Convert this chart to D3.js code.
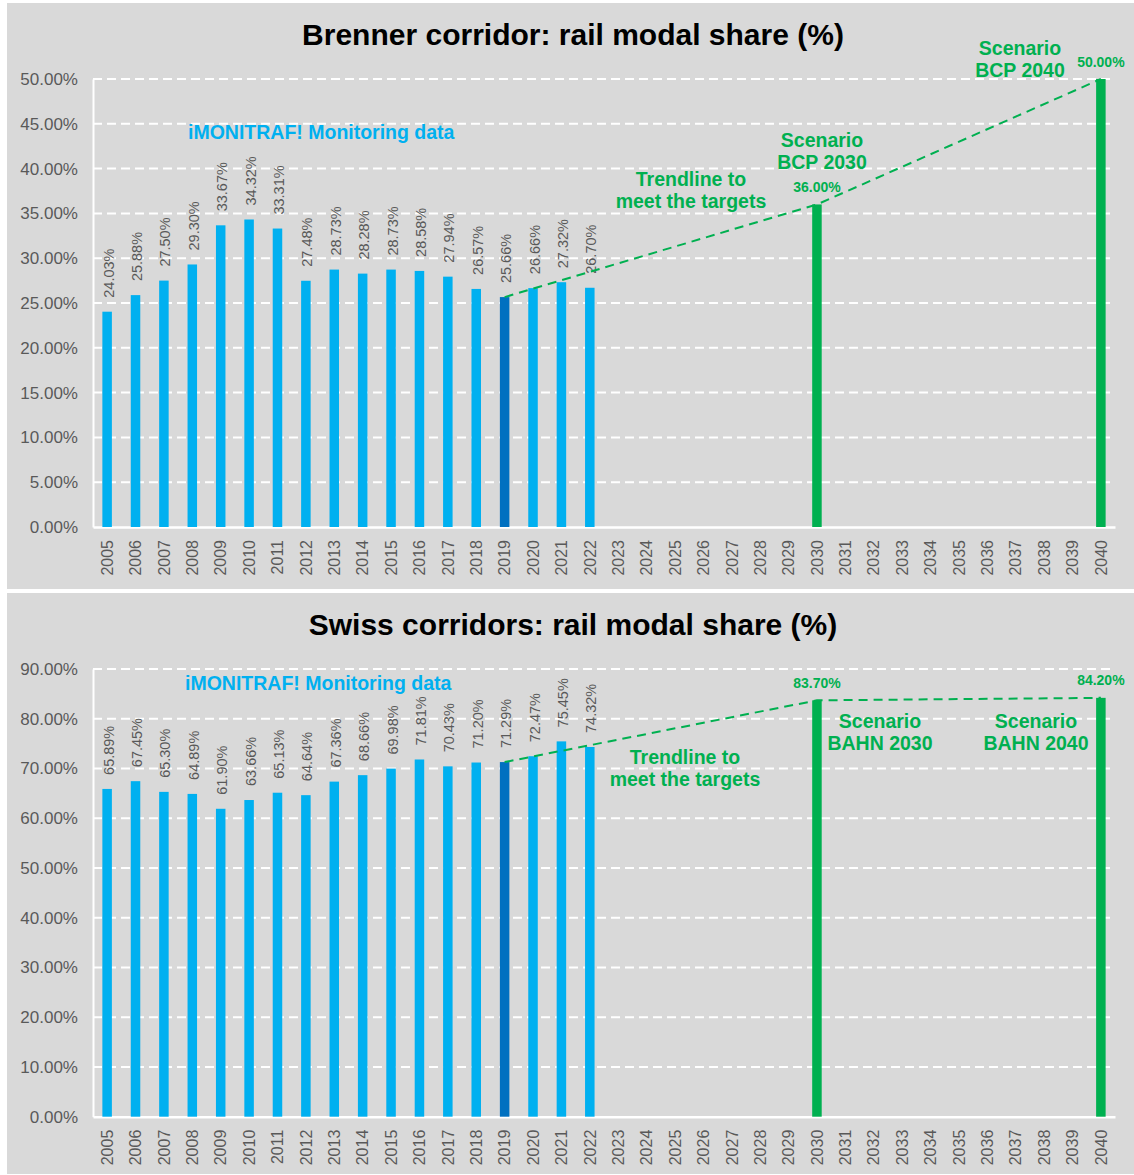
<!DOCTYPE html>
<html>
<head>
<meta charset="utf-8">
<script src="https://cdn.jsdelivr.net/npm/d3@7"></script>
<style>
  html, body { margin: 0; padding: 0; background: #ffffff; }
  svg text { font-family: "Liberation Sans", Arial, sans-serif; }
</style>
</head>
<body>
<svg id="chart" width="1134" height="1175"></svg>
<script>
// Years on the category axis
const years = d3.range(2005, 2041).map(String);

// Brenner corridor: observed rail modal share (%)
const brennerYears = ["2005","2006","2007","2008","2009","2010","2011","2012","2013","2014","2015","2016","2017","2018","2019","2020","2021","2022"];
const brennerShare = [24.03, 25.88, 27.50, 29.30, 33.67, 34.32, 33.31, 27.48, 28.73, 28.28, 28.73, 28.58, 27.94, 26.57, 25.66, 26.66, 27.32, 26.70];
// Brenner scenario targets
const brennerTargetYears = ["2030", "2040"];
const brennerTargets = [36.00, 50.00];
const brennerTicks = [0, 5, 10, 15, 20, 25, 30, 35, 40, 45, 50];

// Swiss corridors: observed rail modal share (%)
const swissYears = brennerYears;
const swissShare = [65.89, 67.45, 65.30, 64.89, 61.90, 63.66, 65.13, 64.64, 67.36, 68.66, 69.98, 71.81, 70.43, 71.20, 71.29, 72.47, 75.45, 74.32];
// Swiss scenario targets
const swissTargetYears = ["2030", "2040"];
const swissTargets = [83.70, 84.20];
const swissTicks = [0, 10, 20, 30, 40, 50, 60, 70, 80, 90];

// Year the trendline starts from (highlighted bar)
const baseYear = "2019";

const BLUE = "#00b0f0", DARK = "#0070c0", GREEN = "#00b050", GREY = "#595959", PANEL = "#d9d9d9";

const svg = d3.select("#chart");

function drawPanel(opt) {
  const g = svg.append("g");
  g.append("rect")
    .attr("x", 7).attr("y", opt.panelTop)
    .attr("width", 1134 - 7).attr("height", opt.panelHeight)
    .attr("fill", PANEL);

  const x = d3.scaleBand().domain(years).range([93, 1115]).paddingInner(0.665).paddingOuter(0.33);
  const y = d3.scaleLinear().domain([0, opt.yMax]).range([opt.y0, opt.yTop]);
  const cx = d => x(d) + x.bandwidth() / 2;

  // title
  g.append("text")
    .attr("x", 573).attr("y", opt.titleY)
    .attr("text-anchor", "middle")
    .attr("font-size", 30).attr("font-weight", "bold").attr("fill", "#000")
    .text(opt.title);

  // dashed gridlines
  g.append("g").selectAll("line")
    .data(opt.ticks.filter(t => t > 0))
    .join("line")
    .attr("x1", 93).attr("x2", 1112)
    .attr("y1", d => y(d)).attr("y2", d => y(d))
    .attr("stroke", "#fff").attr("stroke-width", 2)
    .attr("stroke-dasharray", "9,5");

  // y axis
  const yAxis = d3.axisLeft(y).tickValues(opt.ticks)
    .tickFormat(d => d3.format(".2f")(d) + "%").tickSize(0).tickPadding(15);
  const ya = g.append("g").attr("transform", "translate(93,0)").call(yAxis);
  ya.select(".domain").attr("stroke", "#fff").attr("stroke-width", 2);
  ya.selectAll("text").attr("font-size", 17).attr("fill", GREY)
    .attr("font-family", "'Liberation Sans', Arial, sans-serif");

  // x axis
  const xAxis = d3.axisBottom(x).tickSize(0).tickPadding(0);
  const xa = g.append("g").attr("transform", `translate(0,${opt.y0})`).call(xAxis);
  xa.select(".domain").attr("stroke", "#fff").attr("stroke-width", 2.5);
  xa.selectAll(".tick text")
    .attr("font-size", 16).attr("fill", GREY)
    .attr("font-family", "'Liberation Sans', Arial, sans-serif")
    .attr("text-anchor", "end")
    .attr("transform", "translate(0,13) rotate(-90)")
    .attr("x", 0).attr("y", 0).attr("dy", "0.36em");

  // observed bars
  const obs = opt.obsYears.map((yr, i) => ({ year: yr, v: opt.obs[i] }));
  g.append("g").selectAll("rect")
    .data(obs).join("rect")
    .attr("x", d => x(d.year)).attr("width", x.bandwidth())
    .attr("y", d => y(d.v)).attr("height", d => y(0) - y(d.v))
    .attr("fill", d => d.year === baseYear ? DARK : BLUE);

  // observed value labels
  g.append("g").selectAll("text")
    .data(obs).join("text")
    .attr("transform", d => `translate(${cx(d.year) + 1.5},${y(d.v) - 14}) rotate(-90)`)
    .attr("dy", "0.35em")
    .attr("font-size", 14.5).attr("fill", GREY)
    .text(d => d3.format(".2f")(d.v) + "%");

  // target bars
  const tgt = opt.tgtYears.map((yr, i) => ({ year: yr, v: opt.tgt[i] }));
  g.append("g").selectAll("rect")
    .data(tgt).join("rect")
    .attr("x", d => x(d.year)).attr("width", x.bandwidth())
    .attr("y", d => y(d.v)).attr("height", d => y(0) - y(d.v))
    .attr("fill", GREEN);

  g.append("g").selectAll("text")
    .data(tgt).join("text")
    .attr("x", d => cx(d.year)).attr("y", d => y(d.v) - 12.5)
    .attr("text-anchor", "middle")
    .attr("font-size", 14).attr("font-weight", "bold").attr("fill", GREEN)
    .text(d => d3.format(".2f")(d.v) + "%");

  // trendline from the base year to the targets
  const baseVal = opt.obs[opt.obsYears.indexOf(baseYear)];
  const trend = [{ year: baseYear, v: baseVal }].concat(tgt);
  g.append("path")
    .datum(trend)
    .attr("d", d3.line().x(d => cx(d.year)).y(d => y(d.v)))
    .attr("fill", "none").attr("stroke", GREEN).attr("stroke-width", 2)
    .attr("stroke-dasharray", "9,6");

  // annotations
  const ann = g.append("g").attr("font-weight", "bold").attr("font-size", 19.5);
  ann.append("text")
    .attr("x", opt.monX).attr("y", opt.monY)
    .attr("fill", BLUE)
    .text("iMONITRAF! Monitoring data");
  opt.notes.forEach(n => {
    n.lines.forEach((line, i) => {
      ann.append("text")
        .attr("x", n.x).attr("y", n.y + i * 22)
        .attr("text-anchor", "middle").attr("fill", GREEN)
        .text(line);
    });
  });
}

drawPanel({
  panelTop: 3, panelHeight: 586,
  title: "Brenner corridor: rail modal share (%)", titleY: 45,
  yMax: 50, y0: 527, yTop: 79, ticks: brennerTicks,
  obsYears: brennerYears, obs: brennerShare,
  tgtYears: brennerTargetYears, tgt: brennerTargets,
  monX: 188, monY: 139,
  notes: [
    { x: 691, y: 186, lines: ["Trendline to", "meet the targets"] },
    { x: 822, y: 147, lines: ["Scenario", "BCP 2030"] },
    { x: 1020, y: 55, lines: ["Scenario", "BCP 2040"] }
  ]
});

drawPanel({
  panelTop: 593, panelHeight: 581,
  title: "Swiss corridors: rail modal share (%)", titleY: 635,
  yMax: 90, y0: 1116.7, yTop: 669, ticks: swissTicks,
  obsYears: swissYears, obs: swissShare,
  tgtYears: swissTargetYears, tgt: swissTargets,
  monX: 185, monY: 690,
  notes: [
    { x: 685, y: 764, lines: ["Trendline to", "meet the targets"] },
    { x: 880, y: 728, lines: ["Scenario", "BAHN 2030"] },
    { x: 1036, y: 728, lines: ["Scenario", "BAHN 2040"] }
  ]
});
</script>
</body>
</html>
